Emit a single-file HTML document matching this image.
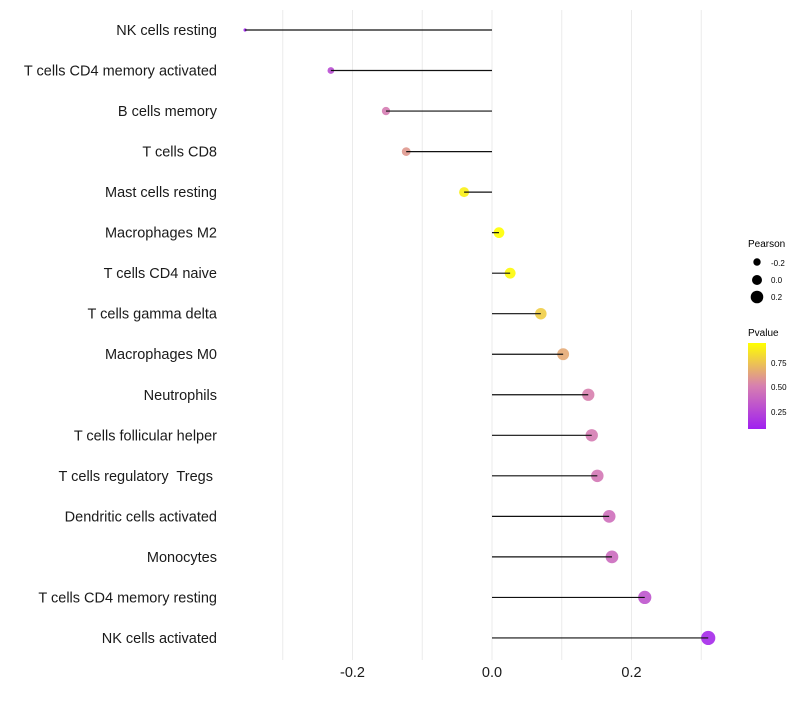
<!DOCTYPE html>
<html><head><meta charset="utf-8"><style>
body{margin:0;background:#fff;font-family:"Liberation Sans",sans-serif}
text{white-space:pre}
</style></head><body>
<svg id="chart" width="800" height="700" xmlns="http://www.w3.org/2000/svg" font-family="Liberation Sans, sans-serif">
<g id="grid"></g>
<g id="ylabels"></g>
<g id="marks"></g>
<g id="xlabels"></g>
<g>
<text x="748" y="247" font-size="10">Pearson</text>
<circle cx="757" cy="262" r="3.7" fill="#000"/>
<text x="771" y="266" font-size="8">-0.2</text>
<circle cx="757" cy="280" r="5" fill="#000"/>
<text x="771" y="283" font-size="8">0.0</text>
<circle cx="757" cy="297" r="6.3" fill="#000"/>
<text x="771" y="300" font-size="8">0.2</text>
</g>
<g>
<defs><linearGradient id="pg" x1="0" y1="1" x2="0" y2="0"><stop offset="0" stop-color="#A020F0"/><stop offset="0.5" stop-color="#D77FB0"/><stop offset="1" stop-color="#FFFF00"/></linearGradient></defs>
<text x="748" y="336" font-size="10">Pvalue</text>
<rect x="748" y="343" width="18" height="86" fill="url(#pg)"/>
<text x="771" y="366" font-size="8">0.75</text>
<text x="771" y="390" font-size="8">0.50</text>
<text x="771" y="415" font-size="8">0.25</text>
</g>
</svg>
<script>
const categories=["NK cells resting","T cells CD4 memory activated","B cells memory","T cells CD8","Mast cells resting","Macrophages M2","T cells CD4 naive","T cells gamma delta","Macrophages M0","Neutrophils","T cells follicular helper","T cells regulatory  Tregs ","Dendritic cells activated","Monocytes","T cells CD4 memory resting","NK cells activated"];
const pearson=[-0.354,-0.231,-0.152,-0.123,-0.040,0.010,0.026,0.070,0.102,0.138,0.143,0.151,0.168,0.172,0.219,0.310];
const pvalues=[0.08,0.28,0.50,0.60,0.90,0.97,0.93,0.78,0.66,0.52,0.50,0.48,0.44,0.42,0.32,0.12];
const xTicks=[-0.2,0.0,0.2];
const xTickLabels=["-0.2","0.0","0.2"];
const gridVals=[-0.3,-0.2,-0.1,0,0.1,0.2,0.3];
const NS="http://www.w3.org/2000/svg";
const x=v=>492+v*697.5;
const y=i=>30+i*40.53;
const rad=p=>Math.sqrt(Math.max(2,28+72*p));
function col(p){
  const t=Math.max(0,Math.min(1,(p-0.08)/(0.95-0.08)));
  const a=[160,32,240],m=[215,127,176],b=[255,255,0];
  let c;
  if(t<0.5){const s=t/0.5;c=a.map((v,k)=>v+(m[k]-v)*s);}else{const s=(t-0.5)/0.5;c=m.map((v,k)=>v+(b[k]-v)*s);}
  return `rgb(${c.map(Math.round).join(",")})`;
}
function mk(tag,attrs,parent){const e=document.createElementNS(NS,tag);for(const k in attrs)e.setAttribute(k,attrs[k]);parent.appendChild(e);return e;}
const grid=document.getElementById('grid'),yl=document.getElementById('ylabels'),mg=document.getElementById('marks'),xl=document.getElementById('xlabels');
gridVals.forEach(v=>{const l=mk('line',{x1:x(v),x2:x(v),y1:10,y2:660,stroke:'#ebebeb','stroke-width':1},grid);

});
categories.forEach((c,i)=>{
  const t=mk('text',{x:217,y:y(i)+5,'font-size':14.5,'text-anchor':'end',fill:'#1a1a1a'},yl);t.textContent=c;
  
  
  const ci=mk('circle',{cx:x(pearson[i]),cy:y(i),r:rad(pearson[i]),fill:col(pvalues[i]),'fill-opacity':0.9},mg);
  
  
  const s=mk('line',{x1:x(0),x2:x(pearson[i]),y1:y(i),y2:y(i),stroke:'#111','stroke-width':1.2},mg);
  
  
});
xTicks.forEach((v,i)=>{const t=mk('text',{x:x(v),y:677,'font-size':14.5,'text-anchor':'middle',fill:'#1a1a1a'},xl);t.textContent=xTickLabels[i];

});
</script>
</body></html>
